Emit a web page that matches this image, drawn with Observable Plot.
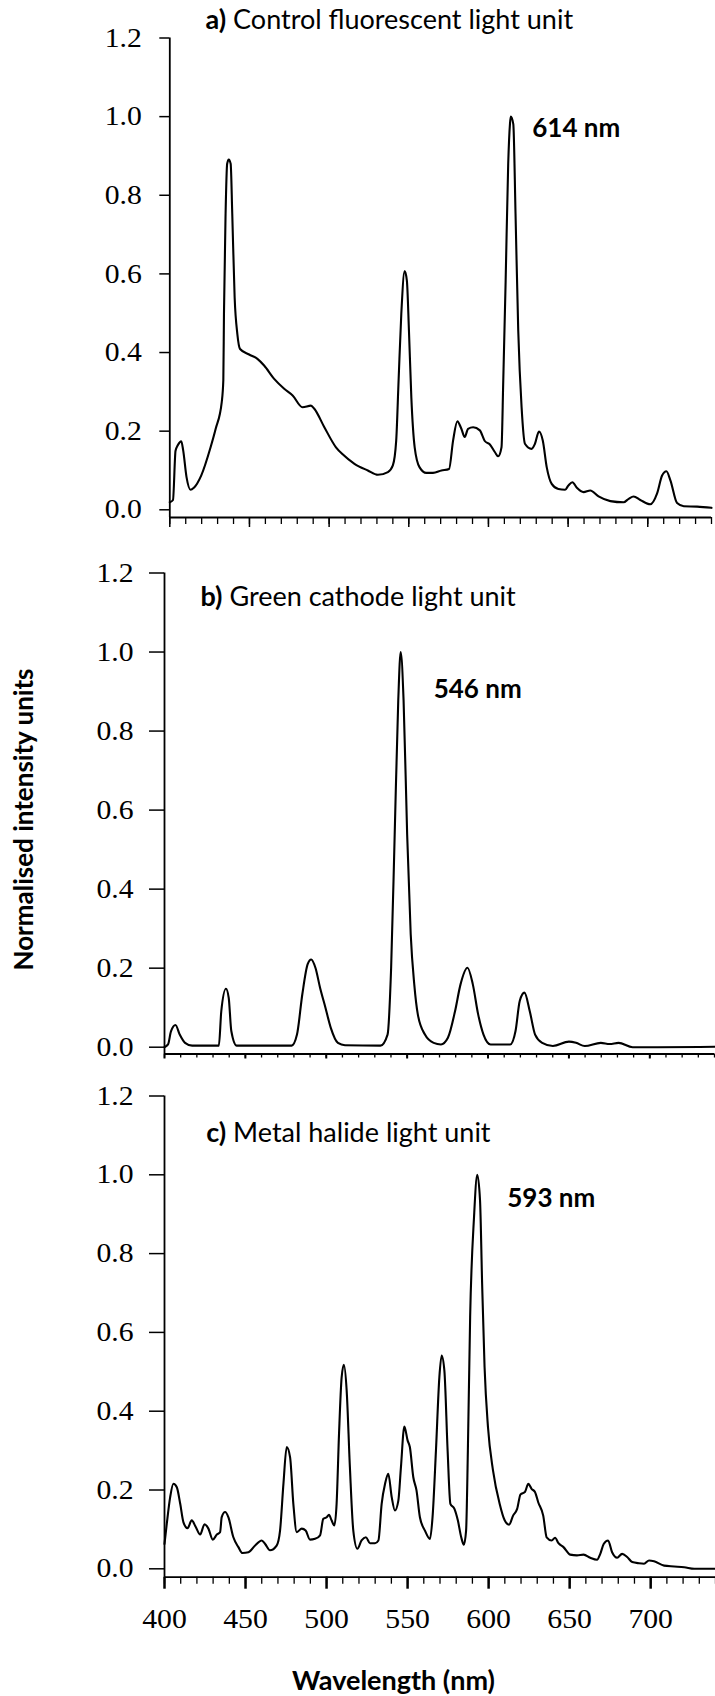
<!DOCTYPE html>
<html>
<head>
<meta charset="utf-8">
<script src="https://cdn.jsdelivr.net/npm/d3@7"></script>
<script src="https://cdn.jsdelivr.net/npm/@observablehq/plot@0.6"></script>
<style>
  html, body { margin: 0; padding: 0; background: #fff; }
  #figure { position: relative; width: 715px; height: 1696px; overflow: hidden; background: #fff; }
  #figure svg { position: absolute; left: 0; }
  /* numeric tick labels are set in a Times-like serif */
  #figure g[aria-label$="tick label"],
  #figure g[aria-label$="tick label"] text {
    font-family: "Liberation Serif", "Times New Roman", Times, serif !important;
    font-size: 27px !important;
  }
</style>
</head>
<body>
<div id="figure"></div>
<script>
// ---- axis ticks -------------------------------------------------------
const yTicks = [0, 0.2, 0.4, 0.6, 0.8, 1.0, 1.2];
const xMajorTicks = [400, 450, 500, 550, 600, 650, 700];
const xMinorTicks = [400, 410, 420, 430, 440, 450, 460, 470, 480, 490, 500, 510, 520, 530, 540, 550, 560,
  570, 580, 590, 600, 610, 620, 630, 640, 650, 660, 670, 680, 690, 700, 710, 720, 730, 740];

// ---- panel titles -----------------------------------------------------
const panelTags = ["a)", "b)", "c)"];
const panelTitles = ["Control fluorescent light unit", "Green cathode light unit", "Metal halide light unit"];

// ---- a) control fluorescent light unit --------------------------------
const fluorescentNm = [
  400, 402, 403.6, 405, 407.2, 408.4, 410.5, 413, 415.1, 419.7,
  425.6, 428.8, 432.6, 433.6, 434, 435, 436, 437, 438.2, 439.2,
  440.7, 442.4, 444.1, 449.8, 455, 459.2, 465.5, 471.8, 477.1, 483.3,
  488.6, 490.7, 497, 504.3, 508.5, 515.9, 524.3, 530.6, 536.9, 540,
  542.1, 543.6, 545.3, 547.4, 548.8, 550.1, 551.6, 553.7, 556.8, 561,
  565.2, 570.5, 575.3, 577.8, 580.5, 583, 585.1, 587.2, 590.4, 594.6,
  597.7, 600.9, 604, 606.1, 608.2, 609.3, 610.8, 612.4, 613.5, 614,
  615.6, 617, 618.7, 620.8, 622.9, 627.1, 629.2, 631.7, 634.1, 636.6,
  639.7, 643.9, 648.1, 650.2, 652.7, 655.5, 659.7, 663.9, 669.1, 676.5,
  684.8, 688, 691.1, 695.3, 701.6, 705.8, 709, 711.7, 714.2, 718.4,
  722.6, 731, 740
];
const fluorescentIntensity = [
  0.019, 0.025, 0.150, 0.164, 0.174, 0.151, 0.083, 0.051, 0.056, 0.087,
  0.159, 0.206, 0.274, 0.330, 0.500, 0.750, 0.880, 0.891, 0.880, 0.753,
  0.540, 0.447, 0.409, 0.395, 0.384, 0.367, 0.333, 0.308, 0.291, 0.261,
  0.265, 0.257, 0.210, 0.159, 0.141, 0.117, 0.100, 0.089, 0.096, 0.113,
  0.176, 0.329, 0.498, 0.607, 0.583, 0.456, 0.286, 0.159, 0.108, 0.094,
  0.094, 0.100, 0.104, 0.176, 0.225, 0.206, 0.185, 0.206, 0.210, 0.202,
  0.175, 0.166, 0.147, 0.136, 0.159, 0.329, 0.583, 0.880, 0.981, 1.000,
  0.981, 0.753, 0.456, 0.261, 0.168, 0.155, 0.168, 0.199, 0.176, 0.108,
  0.066, 0.053, 0.051, 0.062, 0.070, 0.056, 0.045, 0.049, 0.034, 0.022,
  0.019, 0.028, 0.034, 0.025, 0.014, 0.041, 0.087, 0.098, 0.075, 0.017,
  0.009, 0.008, 0.005
];

// ---- b) green cathode light unit --------------------------------------
const cathodeNm = [
  400, 402.2, 404, 406.8, 409.4, 412.7, 417.1, 433.6, 435.1, 438,
  439.7, 441.3, 444.6, 478.6, 481.9, 485.2, 488.5, 490.7, 493.3, 496.2,
  499.5, 502.8, 507.2, 511.6, 533.5, 537.9, 540.1, 542.3, 544.5, 546,
  547.8, 550, 552.2, 554.4, 556.6, 561, 566.4, 570.9, 575.2, 579.6,
  583, 587.3, 590.6, 593.9, 597.2, 601.6, 613.7, 617, 619.6, 622.5,
  625.8, 629.1, 633.5, 640.1, 650, 654.4, 659.8, 669.7, 675.2, 680.7,
  689.4, 704.8, 740
];
const cathodeIntensity = [
  0.000, 0.007, 0.040, 0.056, 0.032, 0.011, 0.004, 0.004, 0.091, 0.148,
  0.125, 0.041, 0.004, 0.004, 0.032, 0.134, 0.210, 0.222, 0.201, 0.150,
  0.100, 0.049, 0.011, 0.005, 0.004, 0.032, 0.201, 0.539, 0.877, 1.000,
  0.877, 0.539, 0.286, 0.159, 0.083, 0.032, 0.011, 0.007, 0.024, 0.091,
  0.159, 0.201, 0.159, 0.083, 0.032, 0.007, 0.007, 0.041, 0.117, 0.138,
  0.091, 0.032, 0.011, 0.003, 0.014, 0.011, 0.003, 0.011, 0.008, 0.011,
  0.000, 0.000, 0.001
];

// ---- c) metal halide light unit ---------------------------------------
const halideNm = [
  400, 401.4, 403.5, 405.5, 407.6, 409.7, 411.7, 414.2, 416.8, 419.3,
  422, 424.7, 427.1, 429.8, 432.3, 434.3, 435.3, 437.4, 439.4, 442.5,
  445.6, 448.1, 451.8, 455.9, 460, 462.1, 465.1, 469.2, 471.3, 473.4,
  475.4, 477.5, 479.5, 481.6, 484.7, 487.1, 489.8, 492.9, 496, 498,
  500.1, 501.5, 503.1, 504.8, 506.2, 507.7, 509.3, 510.7, 512.4, 514.4,
  516.5, 519, 521.6, 524.3, 526.8, 529.9, 532, 534, 536.1, 538.1,
  540.2, 542.2, 544.3, 545.9, 548, 550, 551.4, 553.5, 555.5, 557.6,
  560.7, 563.8, 565.4, 567.5, 569.6, 571, 572.7, 574.7, 576.4, 578.9,
  581, 583.1, 584.7, 586.1, 587.2, 588.6, 591, 593, 594.7, 596,
  597.5, 599.6, 602.7, 606.8, 609.9, 612.6, 615.1, 617.6, 619.7, 622.4,
  624.5, 626.5, 628.6, 630.6, 633.7, 635.8, 638.9, 641, 643.1, 646.2,
  650.3, 654.5, 658.6, 662.7, 666.9, 668.9, 671, 673.7, 676.2, 679.3,
  682.4, 685.5, 688.6, 692.8, 695.9, 699, 702.1, 708.3, 714.5, 720.7,
  726.9, 740
];
const halideIntensity = [
  0.063, 0.114, 0.182, 0.216, 0.207, 0.165, 0.118, 0.103, 0.123, 0.106,
  0.087, 0.113, 0.102, 0.074, 0.087, 0.093, 0.131, 0.144, 0.131, 0.080,
  0.055, 0.040, 0.042, 0.059, 0.072, 0.063, 0.047, 0.059, 0.097, 0.216,
  0.309, 0.283, 0.165, 0.093, 0.102, 0.097, 0.074, 0.076, 0.085, 0.127,
  0.131, 0.137, 0.123, 0.110, 0.165, 0.343, 0.486, 0.518, 0.453, 0.258,
  0.097, 0.051, 0.072, 0.080, 0.065, 0.065, 0.072, 0.165, 0.216, 0.241,
  0.182, 0.148, 0.173, 0.258, 0.361, 0.326, 0.309, 0.233, 0.199, 0.131,
  0.097, 0.076, 0.131, 0.300, 0.486, 0.541, 0.503, 0.300, 0.165, 0.152,
  0.123, 0.080, 0.061, 0.097, 0.300, 0.639, 0.893, 1.000, 0.935, 0.723,
  0.512, 0.360, 0.250, 0.165, 0.123, 0.112, 0.135, 0.152, 0.189, 0.195,
  0.216, 0.203, 0.195, 0.169, 0.135, 0.080, 0.072, 0.079, 0.065, 0.055,
  0.036, 0.034, 0.036, 0.028, 0.023, 0.038, 0.063, 0.072, 0.042, 0.028,
  0.038, 0.030, 0.017, 0.014, 0.013, 0.021, 0.019, 0.008, 0.006, 0.004,
  0.000, 0.000
];

const yLabel = "Normalised intensity units";
const xLabel = "Wavelength (nm)";

// ---- rendering --------------------------------------------------------
const SANS = "Lato, 'Open Sans', sans-serif";
const SERIF = "'Liberation Serif', 'Times New Roman', Times, serif";
const ctx = document.createElement("canvas").getContext("2d");
function textWidth(s, font) { ctx.font = font; return ctx.measureText(s).width; }

// layout of the three stacked panels (pixels)
const layout = [
  {top: 0,    height: 545, marginTop: 37.5, marginBottom: 28,    marginLeft: 169.3, marginRight: 4, yMin: -0.0196,
   yTick: 10, yPad: 18, minorTick: 7, majorTick: 10, majorWidth: 1.5, showX: false,
   titleX: 205, titleBase: 28, peakDx: 21.5, peakDy: 20.4},
  {top: 545,  height: 520, marginTop: 27.5, marginBottom: 11.5,  marginLeft: 164,   marginRight: 1, yMin: -0.0172,
   yTick: 15, yPad: 16, minorTick: 4, majorTick: 5, majorWidth: 2, showX: false,
   titleX: 200, titleBase: 60, peakDx: 33, peakDy: 45.5, yLabel: true},
  {top: 1065, height: 631, marginTop: 30.5, marginBottom: 119.3, marginLeft: 164,   marginRight: 0, yMin: -0.0213,
   yTick: 15, yPad: 16, minorTick: 7, majorTick: 12, majorWidth: 2.5, showX: true,
   titleX: 205.7, titleBase: 76, peakDx: 30, peakDy: 32.4, xLabel: true}
];
const series = [
  [fluorescentNm, fluorescentIntensity],
  [cathodeNm, cathodeIntensity],
  [halideNm, halideIntensity]
];

const figure = document.getElementById("figure");
const TITLE_SIZE = 27;
const TICK_STRETCH = 1.1; // tick numerals are set slightly wide

layout.forEach((p, i) => {
  const [nm, intensity] = series[i];
  const data = nm.map((x, j) => ({nm: x, v: intensity[j]}));
  const peak = data.reduce((a, b) => (b.v > a.v ? b : a));
  const tagWidth = textWidth(panelTags[i], `bold ${TITLE_SIZE}px Lato`) + textWidth(" ", `${TITLE_SIZE}px Lato`);
  const frameW = 715 - p.marginLeft - p.marginRight;
  const frameH = p.height - p.marginTop - p.marginBottom;
  const tickText = {fontFamily: SERIF, fontSize: 27};

  const marks = [
    Plot.ruleX([400], {stroke: "black", strokeWidth: 1.8}),
    Plot.ruleY([p.yMin], {stroke: "black", strokeWidth: 1.8}),
    Plot.axisY(yTicks, {tickSize: p.yTick, tickPadding: p.yPad, tickFormat: d => d.toFixed(1),
      strokeWidth: 1.5, label: null, ...tickText}),
    Plot.axisX(xMinorTicks, {tickSize: p.minorTick, tickFormat: () => "", strokeWidth: 1.3, label: null}),
    Plot.axisX(xMajorTicks, {tickSize: p.majorTick, tickPadding: 20, strokeWidth: p.majorWidth, label: null,
      tickFormat: p.showX ? d => String(d) : () => "", ...tickText}),
    Plot.line(data, {x: "nm", y: "v", curve: "monotone-x", stroke: "black", strokeWidth: 2.1}),
    Plot.text([panelTags[i]], {frameAnchor: "top-left", text: d => d,
      dx: p.titleX - p.marginLeft, dy: p.titleBase - p.marginTop,
      textAnchor: "start", lineAnchor: "bottom", fontFamily: SANS, fontWeight: "bold", fontSize: TITLE_SIZE}),
    Plot.text([panelTitles[i]], {frameAnchor: "top-left", text: d => d,
      dx: p.titleX - p.marginLeft + tagWidth, dy: p.titleBase - p.marginTop,
      textAnchor: "start", lineAnchor: "bottom", fontFamily: SANS, fontWeight: "normal", fontSize: TITLE_SIZE}),
    Plot.text([peak], {x: "nm", y: "v", text: d => `${d.nm} nm`, dx: p.peakDx, dy: p.peakDy,
      textAnchor: "start", lineAnchor: "bottom", fontFamily: SANS, fontWeight: "bold", fontSize: 26})
  ];
  if (p.yLabel) {
    // rotated axis title, centred beside the middle panel
    marks.push(Plot.text([yLabel], {frameAnchor: "left", text: d => d, rotate: -90,
      dx: 32 - p.marginLeft, dy: 819 - (p.top + p.marginTop + frameH / 2),
      textAnchor: "middle", lineAnchor: "bottom", fontFamily: SANS, fontWeight: "bold", fontSize: 26}));
  }
  if (p.xLabel) {
    marks.push(Plot.text([xLabel], {frameAnchor: "bottom", text: d => d,
      dx: 393 - (p.marginLeft + frameW / 2), dy: 1689 - (p.top + p.height - p.marginBottom),
      textAnchor: "middle", lineAnchor: "bottom", fontFamily: SANS, fontWeight: "bold", fontSize: 27}));
  }

  const svg = Plot.plot({
    width: 715,
    height: p.height,
    marginTop: p.marginTop,
    marginBottom: p.marginBottom,
    marginLeft: p.marginLeft,
    marginRight: p.marginRight,
    x: {domain: [400, 740]},
    y: {domain: [p.yMin, 1.2]},
    style: {fontSize: "27px", color: "black", background: "transparent", overflow: "visible"},
    marks
  });
  svg.style.top = p.top + "px";
  figure.appendChild(svg);

  // numeric tick labels: serif face, slightly widened
  svg.querySelectorAll('g[aria-label$="tick label"]').forEach(g => {
    g.setAttribute("font-family", SERIF);
    g.querySelectorAll("text").forEach(t => {
      const len = t.getComputedTextLength();
      if (len > 0) {
        t.setAttribute("textLength", (len * TICK_STRETCH).toFixed(1));
        t.setAttribute("lengthAdjust", "spacingAndGlyphs");
      }
    });
  });
});
</script>
</body>
</html>
